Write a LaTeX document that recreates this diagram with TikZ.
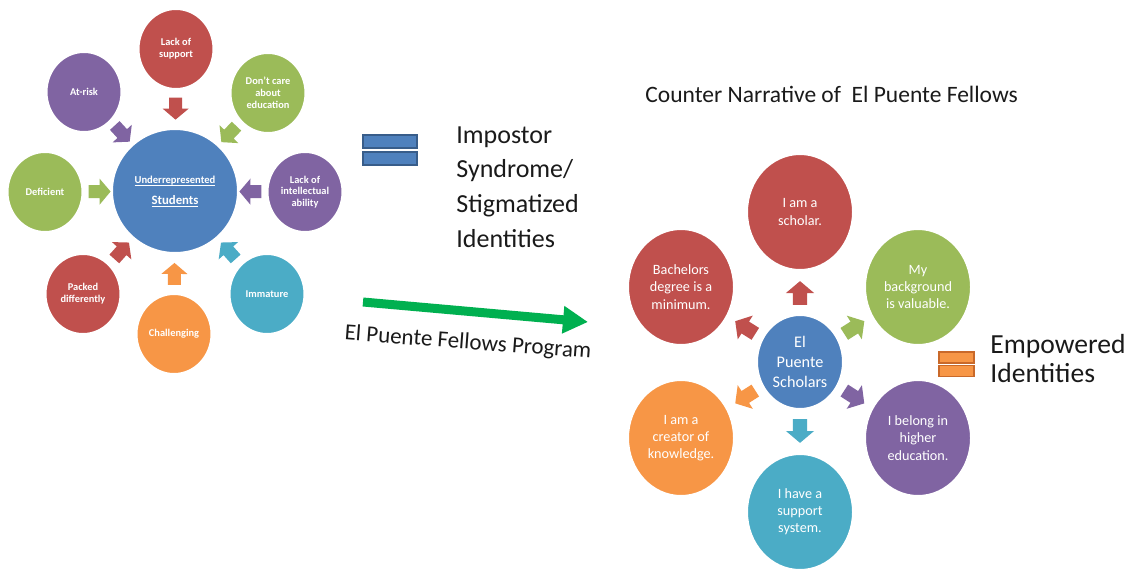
\documentclass[tikz,border=0pt]{standalone}
\usepackage{fontspec}
\setmainfont{Carlito}
\usetikzlibrary{calc,arrows.meta,shapes.geometric}
\definecolor{cblue}{HTML}{4F81BD}
\definecolor{cbluedk}{HTML}{385D8A}
\definecolor{cred}{HTML}{C0504D}
\definecolor{cgreen}{HTML}{9BBB59}
\definecolor{cpurple}{HTML}{8064A2}
\definecolor{caqua}{HTML}{4BACC6}
\definecolor{corange}{HTML}{F79646}
\definecolor{corangedk}{HTML}{C9692A}
\definecolor{cgarrow}{HTML}{00B050}
\definecolor{ctext}{HTML}{1A1A1A}
\newsavebox\myulbox
\newcommand\myul[1]{\sbox\myulbox{#1}\rlap{\rule[-1.1pt]{\wd\myulbox}{0.35pt}}\usebox\myulbox}
\tikzset{
  bub/.style={ellipse, draw=white, line width=1pt, inner sep=0pt, align=center, text=white},
  lo/.style={bub, minimum width=37.5pt, minimum height=40pt, font=\fontsize{5.2}{5.9}\selectfont\bfseries},
  ro/.style={bub, minimum width=53pt, minimum height=58pt, font=\fontsize{7.1}{8.6}\selectfont},
  eqbar/.style={rectangle, inner sep=0pt, line width=0.8pt},
  barrow/.pic={\fill (-11,-6.5) -- (0,-6.5) -- (0,-13) -- (11,0) -- (0,13) -- (0,6.5) -- (-11,6.5) -- cycle;},
  plaintext/.style={inner sep=0pt, text=ctext}
}
\begin{document}
\begin{tikzpicture}[x=0.5pt,y=-0.5pt]
\fill[white] (0,0) rectangle (1140,573);
\useasboundingbox (0,0) rectangle (1140,573);

% ---------- left cluster ----------
\node[bub, fill=cblue, minimum width=63pt, minimum height=62pt, font=\fontsize{6.4}{10.5}\selectfont\bfseries] (lc) at (175,191)
  {{\fontsize{5.3}{10.5}\selectfont\myul{Underrepresented}}\\\myul{Students}};
\node[lo, fill=cred]    (l1) at (176,49)  {Lack of\\support};
\node[lo, fill=cgreen]  (l2) at (268,93)  {Don’t care\\about\\education};
\node[lo, fill=cpurple] (l3) at (305,192) {Lack of\\intellectual\\ability};
\node[lo, fill=caqua]   (l4) at (267,294) {Immature};
\node[lo, fill=corange] (l5) at (174,334) {Challenging};
\node[lo, fill=cred]    (l6) at (83,294)  {Packed\\differently};
\node[lo, fill=cgreen]  (l7) at (45,192)  {Deficient};
\node[lo, fill=cpurple] (l8) at (84,92)   {At-risk};

\foreach \o/\col in {l1/cred,l2/cgreen,l3/cpurple,l4/caqua,l5/corange,l6/cred,l7/cgreen,l8/cpurple}{
  \path let \p1=($(lc.center)-(\o.center)$), \n1={atan2(\y1,\x1)} in
    ($(lc.center)!0.58!(\o.center)$) pic[rotate=\n1, color=\col] {barrow};
}

% ---------- equals + label ----------
\node[eqbar, fill=cblue, draw=cbluedk, minimum width=27pt, minimum height=6.5pt] (eqa) at (390,141.5) {};
\node[eqbar, fill=cblue, draw=cbluedk, minimum width=27pt, minimum height=6.5pt] (eqb) at (390,158.5) {};
\node[plaintext, anchor=west, align=left, font=\fontsize{13}{17.3}\selectfont] (imp) at (456,187)
  {Impostor\\Syndrome/\\Stigmatized\\Identities};

% ---------- program arrow ----------
\coordinate (gaS) at (363,302);
\coordinate (gaE) at (588,322);
\draw[cgarrow, line width=4.5pt, -{Triangle[length=12.5pt,width=13pt]}] (gaS) -- (gaE);
\node[plaintext, rotate=-4.3, font=\fontsize{11.5}{14}\selectfont] (prog) at (468,343) {El Puente Fellows Program};

% ---------- right cluster ----------
\node[plaintext, anchor=base west, font=\fontsize{11.75}{14}\selectfont] (cn) at (645,102)
  {Counter Narrative of\ \ El Puente Fellows};

\node[bub, fill=cblue, minimum width=43pt, minimum height=47pt, font=\fontsize{8.1}{10}\selectfont] (rc) at (800,362)
  {El\\Puente\\Scholars};
\node[ro, fill=cred]    (r1) at (800,212) {I am a\\scholar.};
\node[ro, fill=cgreen]  (r2) at (918,287) {My\\background\\is valuable.};
\node[ro, fill=cpurple] (r3) at (918,438) {I belong in\\higher\\education.};
\node[ro, fill=caqua]   (r4) at (800,512) {I have a\\support\\system.};
\node[ro, fill=corange] (r5) at (681,438) {I am a\\creator of\\knowledge.};
\node[ro, fill=cred]    (r6) at (681,287) {Bachelors\\degree is a\\minimum.};

\foreach \o/\col in {r1/cred,r2/cgreen,r3/cpurple,r4/caqua,r5/corange,r6/cred}{
  \path let \p1=($(\o.center)-(rc.center)$), \n1={atan2(\y1,\x1)} in
    ($(rc.center)!0.46!(\o.center)$) pic[rotate=\n1, color=\col, scale=1.08] {barrow};
}

% ---------- equals + label ----------
\node[eqbar, fill=corange, draw=corangedk, minimum width=17.5pt, minimum height=5.5pt] (eqc) at (956.5,357.5) {};
\node[eqbar, fill=corange, draw=corangedk, minimum width=17.5pt, minimum height=5.5pt] (eqd) at (956.5,371) {};
\node[plaintext, anchor=west, align=left, font=\fontsize{13.8}{14.5}\selectfont] (emp) at (990,359)
  {Empowered\\Identities};
\end{tikzpicture}
\end{document}
